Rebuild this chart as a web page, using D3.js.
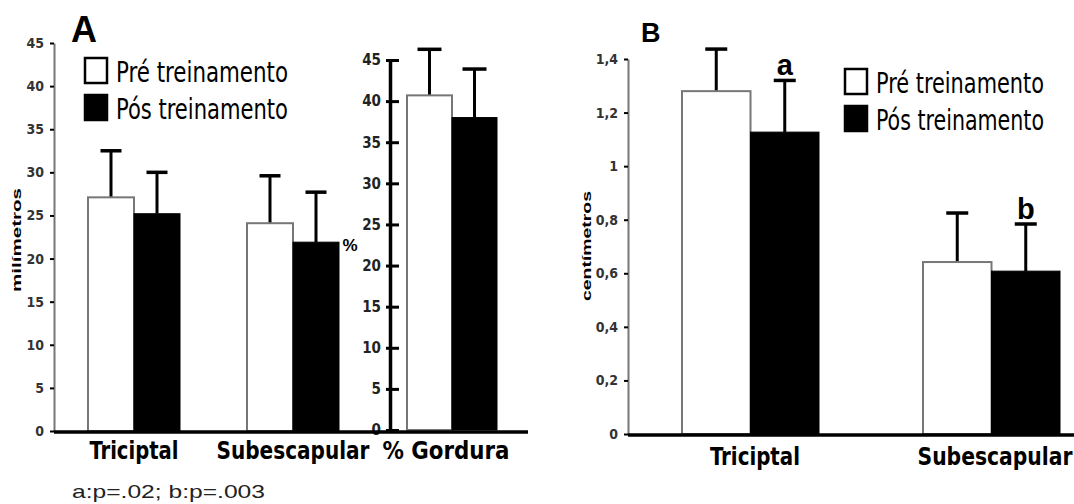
<!DOCTYPE html>
<html><head><meta charset="utf-8">
<script src="https://cdn.jsdelivr.net/npm/d3@7"></script>
<style>
body{margin:0;background:#fff;}
svg{display:block;}
</style></head>
<body>
<svg id="chart" width="1074" height="504"></svg>
<script>
// ---------- DATA ----------
const series = ["Pré treinamento", "Pós treinamento"];
// Panel A (milímetros)
const catsA = ["Triciptal", "Subescapular"];
const meanA = [[27.1, 25.2], [24.1, 21.9]];
const errA  = [[32.5, 30.0], [29.6, 27.7]]; // top of error bar
const ticksA = [0, 5, 10, 15, 20, 25, 30, 35, 40, 45];
// Panel A (% Gordura)
const catsP = ["% Gordura"];
const meanP = [[40.7, 38.0]];
const errP  = [[46.3, 43.9]];
const ticksP = [0, 5, 10, 15, 20, 25, 30, 35, 40, 45];
// Panel B (centímetros)
const catsB = ["Triciptal", "Subescapular"];
const meanB = [[1.28, 1.127], [0.642, 0.608]];
const errB  = [[1.437, 1.32], [0.825, 0.784]];
const ticksB = [0, 0.2, 0.4, 0.6, 0.8, 1.0, 1.2, 1.4];
const signifB = [[null, "a"], [null, "b"]];
const footnote = "a:p=.02; b:p=.003";

// ---------- DRAW ----------
const svg = d3.select("#chart");
const NARROW = "'Liberation Sans Narrow','DejaVu Sans Condensed','Arial Narrow',sans-serif";
const SANS = "'Liberation Sans',Arial,sans-serif";
const fill = ["#ffffff", "#000000"];

function bars(g, cats, means, errs, x, inner, y, capW, marks) {
  cats.forEach((c, ci) => {
    series.forEach((s, si) => {
      const cx = x(c) + inner(s);
      const w = inner.bandwidth();
      const v = means[ci][si];
      const xm = cx + w / 2;
      g.append("line").attr("x1", xm).attr("x2", xm)
        .attr("y1", y(v)).attr("y2", y(errs[ci][si]))
        .attr("stroke", "#000").attr("stroke-width", 3);
      g.append("line").attr("x1", xm - capW / 2).attr("x2", xm + capW / 2)
        .attr("y1", y(errs[ci][si])).attr("y2", y(errs[ci][si]))
        .attr("stroke", "#000").attr("stroke-width", 3.5);
      g.append("rect").attr("x", cx).attr("y", y(v))
        .attr("width", w).attr("height", y(0) - y(v))
        .attr("fill", fill[si])
        .attr("stroke", si === 0 ? "#777" : "#000").attr("stroke-width", si === 0 ? 2 : 1);
      if (marks && marks[ci][si]) {
        g.append("text").attr("x", xm).attr("y", y(errs[ci][si]) - 5)
          .attr("text-anchor", "middle")
          .attr("font-family", SANS).attr("font-weight", "bold").attr("font-size", 29)
          .text(marks[ci][si]);
      }
    });
  });
}

function legend(g, x0, y0, gap, textLen) {
  series.forEach((s, i) => {
    g.append("rect").attr("x", x0).attr("y", y0 + i * gap)
      .attr("width", 22).attr("height", 25)
      .attr("fill", fill[i]).attr("stroke", "#000").attr("stroke-width", 2.5);
    g.append("text").attr("x", x0 + 31).attr("y", y0 + i * gap + 24)
      .attr("font-family", NARROW).attr("font-size", 29)
      .attr("textLength", textLen).attr("lengthAdjust", "spacingAndGlyphs")
      .text(s);
  });
}

function styleAxis(ax, lineColor) {
  ax.select(".domain").attr("stroke", lineColor).attr("stroke-width", 2);
  ax.selectAll(".tick line").attr("stroke", "#000").attr("stroke-width", 2);
  ax.selectAll(".tick text").attr("font-family", NARROW).attr("font-size", 14)
    .attr("font-weight", "bold").attr("fill", "#333");
}

// ===== Panel A =====
const gA = svg.append("g");
const yA = d3.scaleLinear().domain([0, 45]).range([431, 43]);
const xA = d3.scalePoint().domain(catsA).range([134, 293]);
const inA = d3.scaleBand().domain(series).range([-46, 46]);
const axA = gA.append("g").attr("transform", "translate(54,0)")
  .call(d3.axisLeft(yA).tickValues(ticksA).tickSize(4).tickSizeOuter(0).tickPadding(6));
styleAxis(axA, "#777");
bars(gA, catsA, meanA, errA, xA, inA, yA, 21);

// % Gordura
const yP = d3.scaleLinear().domain([0, 45]).range([430, 60]);
const xP = d3.scalePoint().domain(catsP).range([452, 452]);
const inP = d3.scaleBand().domain(series).range([-45, 45]);
const axP = gA.append("g").attr("transform", "translate(390,0)")
  .call(d3.axisLeft(yP).tickValues(ticksP).tickSize(0).tickPadding(9));
axP.select(".domain").attr("stroke", "#000").attr("stroke-width", 3.5);
axP.selectAll(".tick text").attr("font-family", NARROW).attr("font-size", 15)
  .attr("font-weight", "bold").attr("fill", "#222");
axP.selectAll(".tick").append("line").attr("x1", -4).attr("x2", 9)
  .attr("stroke", "#000").attr("stroke-width", 3);
bars(gA, catsP, meanP, errP, xP, inP, yP, 24);

// baseline A
gA.append("line").attr("x1", 54).attr("x2", 528).attr("y1", yA(0) + 1).attr("y2", yA(0) + 1)
  .attr("stroke", "#000").attr("stroke-width", 3.5);

// category labels A
catsA.forEach(c => {
  gA.append("text").attr("x", xA(c)).attr("y", 459).attr("text-anchor", "middle")
    .attr("font-family", NARROW).attr("font-weight", "bold").attr("font-size", 24)
    .attr("textLength", c === "Triciptal" ? 89 : 153).attr("lengthAdjust", "spacingAndGlyphs")
    .text(c);
});
gA.append("text").attr("x", 446).attr("y", 459).attr("text-anchor", "middle")
  .attr("font-family", NARROW).attr("font-weight", "bold").attr("font-size", 24)
  .attr("textLength", 127).attr("lengthAdjust", "spacingAndGlyphs")
  .text(catsP[0]);

gA.append("text").attr("x", 350).attr("y", 251).attr("text-anchor", "middle")
  .attr("font-family", SANS).attr("font-weight", "bold").attr("font-size", 17)
  .text("%");

gA.append("text").attr("transform", "translate(21,240) rotate(-90)").attr("text-anchor", "middle")
  .attr("font-family", SANS).attr("font-weight", "bold").attr("font-size", 12)
  .attr("textLength", 104).attr("lengthAdjust", "spacingAndGlyphs")
  .text("milímetros");

gA.append("text").attr("x", 71).attr("y", 42)
  .attr("font-family", SANS).attr("font-weight", "bold").attr("font-size", 36)
  .text("A");

legend(gA, 85, 58, 37, 172);

gA.append("text").attr("x", 72).attr("y", 498)
  .attr("font-family", SANS).attr("font-size", 19).attr("fill", "#222")
  .attr("textLength", 193).attr("lengthAdjust", "spacingAndGlyphs")
  .text(footnote);

// ===== Panel B =====
const gB = svg.append("g");
const yB = d3.scaleLinear().domain([0, 1.4]).range([434, 59]);
const xB = d3.scalePoint().domain(catsB).range([750, 991]);
const inB = d3.scaleBand().domain(series).range([-68, 69]);
const fmtB = d => d3.format(".1~f")(d).replace(".", ",");
const axB = gB.append("g").attr("transform", "translate(628,0)")
  .call(d3.axisLeft(yB).tickValues(ticksB).tickFormat(fmtB).tickSize(4).tickSizeOuter(0).tickPadding(6));
styleAxis(axB, "#777");
bars(gB, catsB, meanB, errB, xB, inB, yB, 22, signifB);

gB.append("line").attr("x1", 628).attr("x2", 1074).attr("y1", yB(0) + 1).attr("y2", yB(0) + 1)
  .attr("stroke", "#000").attr("stroke-width", 3.5);

catsB.forEach(c => {
  gB.append("text").attr("x", xB(c) + (c === "Triciptal" ? 5 : 4)).attr("y", 465).attr("text-anchor", "middle")
    .attr("font-family", NARROW).attr("font-weight", "bold").attr("font-size", 24)
    .attr("textLength", c === "Triciptal" ? 90 : 155).attr("lengthAdjust", "spacingAndGlyphs")
    .text(c);
});

gB.append("text").attr("transform", "translate(591,246) rotate(-90)").attr("text-anchor", "middle")
  .attr("font-family", SANS).attr("font-weight", "bold").attr("font-size", 12)
  .attr("textLength", 110).attr("lengthAdjust", "spacingAndGlyphs")
  .text("centímetros");

gB.append("text").attr("x", 641).attr("y", 42)
  .attr("font-family", SANS).attr("font-weight", "bold").attr("font-size", 27)
  .text("B");

legend(gB, 845, 69, 37, 168);
</script>
</body></html>
